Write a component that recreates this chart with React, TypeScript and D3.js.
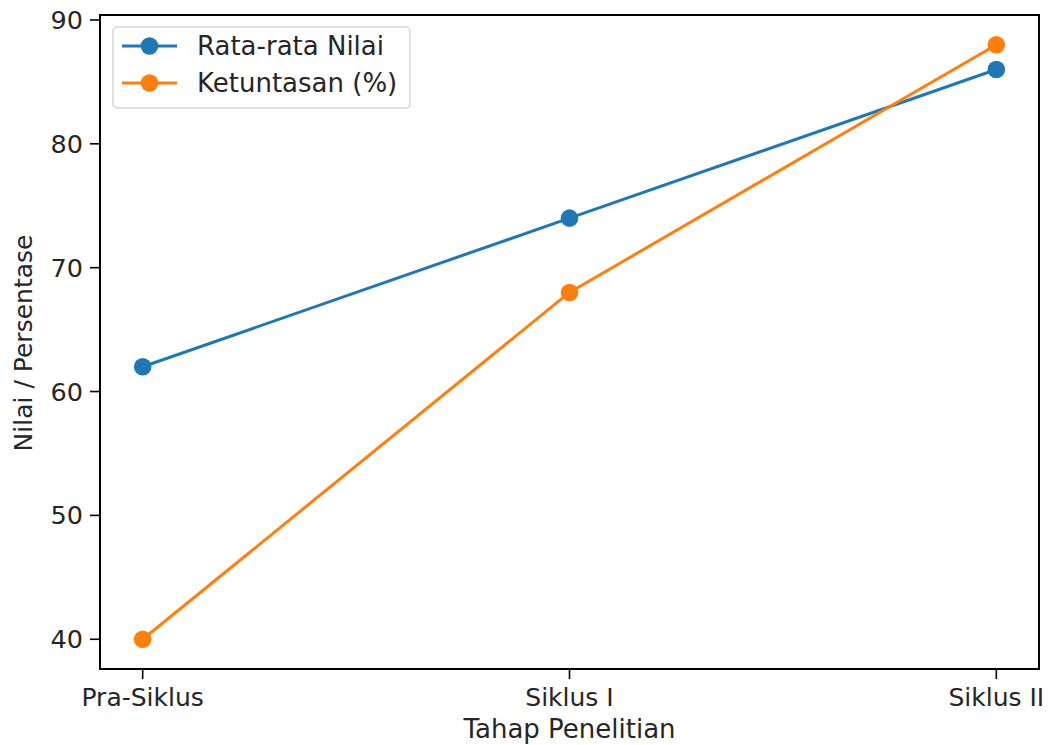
import React from "react";
import * as d3 from "d3";

const categories = ["Pra-Siklus", "Siklus I", "Siklus II"];
const rataRata = [62, 74, 86];
const ketuntasan = [40, 68, 88];
const yTicks = [40, 50, 60, 70, 80, 90];
const seriesNames = ["Rata-rata Nilai", "Ketuntasan (%)"];

const W = 1048;
const H = 745;
const left = 100;
const right = 1039;
const top = 15;
const bottom = 669;
const font = "DejaVu Sans, sans-serif";
const fs = 25;
const colors = ["#1f77b4", "#ff7f0e"];

export default function App() {
  const x = d3.scaleLinear().domain([-0.1, 2.1]).range([left, right]);
  const y = d3.scaleLinear().domain([37.6, 90.4]).range([bottom, top]);
  const line = d3
    .line<number>()
    .x((_, i) => x(i))
    .y((d) => y(d));
  const series = [rataRata, ketuntasan];
  return (
    <svg
      width={W}
      height={H}
      style={{ position: "absolute", left: 0, top: 0, background: "#fff" }}
      fontFamily={font}
    >
      <rect x={0} y={0} width={W} height={H} fill="#fff" />
      {series.map((s, si) => (
        <g key={si}>
          <path d={line(s) || ""} fill="none" stroke={colors[si]} strokeWidth={3} />
          {s.map((v, i) => (
            <circle key={i} cx={x(i)} cy={y(v)} r={8.8} fill={colors[si]} />
          ))}
        </g>
      ))}
      <rect
        x={left}
        y={top}
        width={right - left}
        height={bottom - top}
        fill="none"
        stroke="#000"
        strokeWidth={2}
      />
      {yTicks.map((t) => (
        <g key={t}>
          <line x1={left - 10} x2={left} y1={y(t)} y2={y(t)} stroke="#000" strokeWidth={1.6} />
          <text
            x={left - 17}
            y={y(t)}
            textAnchor="end"
            dominantBaseline="central"
            fontSize={fs + 0.5}
            fill="#262626"
          >
            {t}
          </text>
        </g>
      ))}
      {categories.map((c, i) => (
        <g key={c}>
          <line x1={x(i)} x2={x(i)} y1={bottom} y2={bottom + 10} stroke="#000" strokeWidth={1.6} />
          <text x={x(i)} y={bottom + 37} textAnchor="middle" fontSize={fs} fill="#262626">
            {c}
          </text>
        </g>
      ))}
      <text x={(left + right) / 2} y={738} textAnchor="middle" fontSize={fs + 1} fill="#262626">
        Tahap Penelitian
      </text>
      <text
        transform={`translate(32, ${(top + bottom) / 2 + 1}) rotate(-90)`}
        textAnchor="middle"
        fontSize={fs}
        fill="#262626"
      >
        Nilai / Persentase
      </text>
      <g>
        <rect
          x={113}
          y={27}
          width={297}
          height={81}
          rx={4}
          fill="#fff"
          fillOpacity={0.8}
          stroke="#d6d6d6"
          strokeWidth={1.5}
        />
        {seriesNames.map((n, i) => {
          const ly = 46 + i * 37;
          return (
            <g key={n}>
              <line x1={122} x2={177} y1={ly} y2={ly} stroke={colors[i]} strokeWidth={3} />
              <circle cx={149.5} cy={ly} r={8.8} fill={colors[i]} />
              <text x={197} y={ly} dominantBaseline="central" fontSize={fs + 1} fill="#262626">
                {n}
              </text>
            </g>
          );
        })}
      </g>
    </svg>
  );
}
